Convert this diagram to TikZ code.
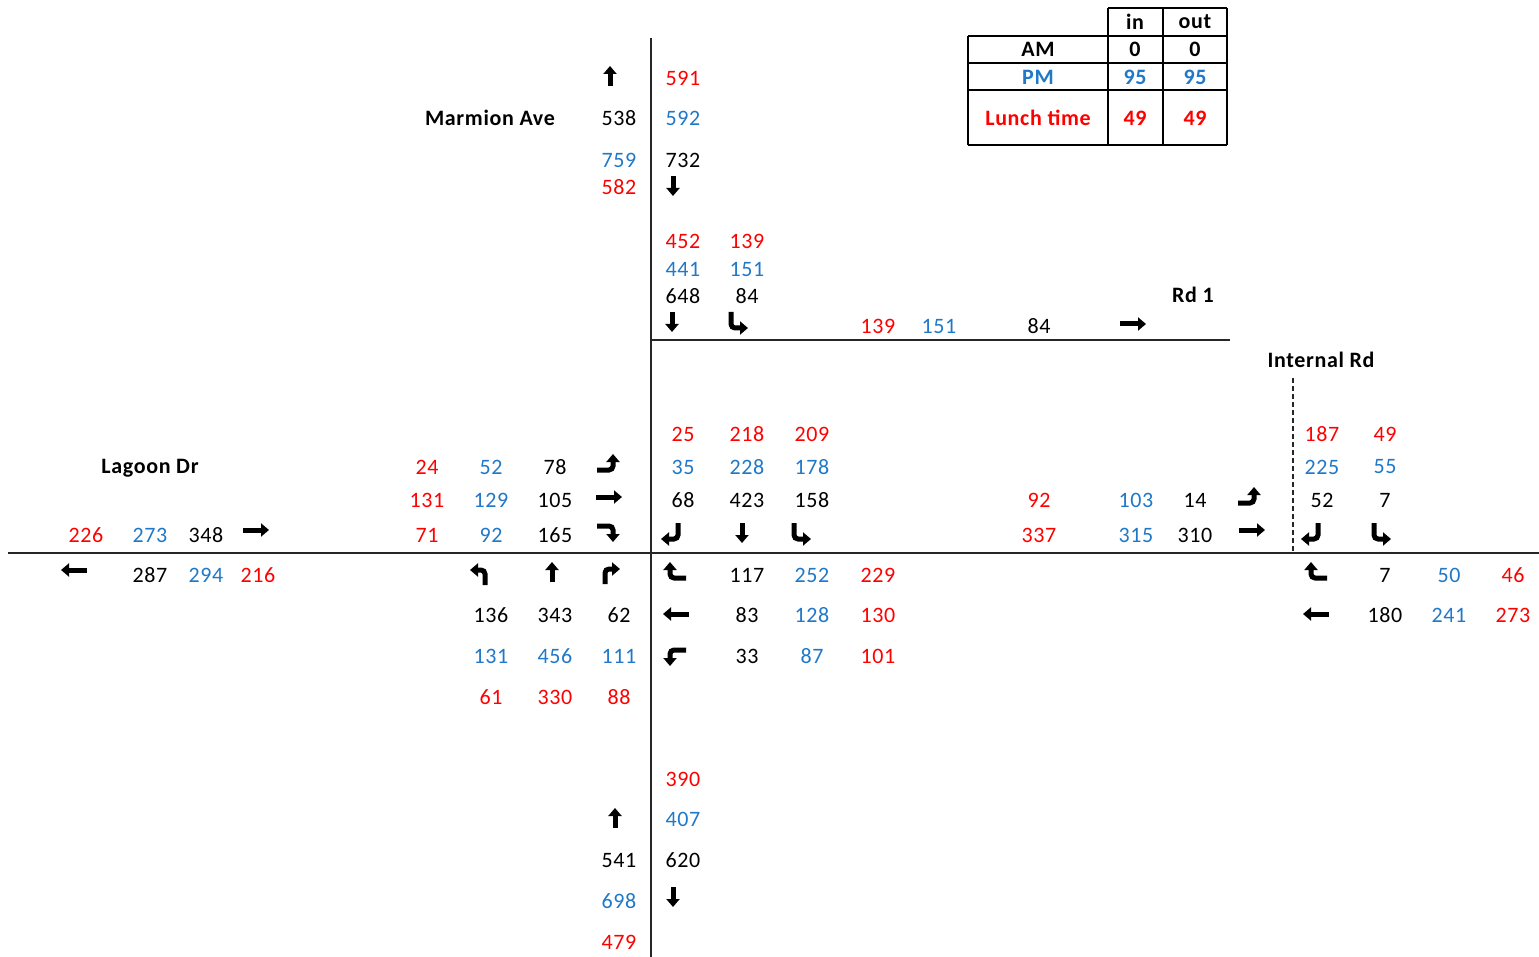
\documentclass[tikz,border=0pt]{standalone}
\usepackage{fontspec}
\setmainfont{Carlito}[LetterSpace=3]
\usetikzlibrary{arrows.meta}
\definecolor{amred}{HTML}{FF0000}
\definecolor{pmblue}{HTML}{1F78C8}

\tikzset{
  arw/.style={line width=5pt, draw=black, rounded corners=4pt,
    -{Triangle[length=8pt,width=13pt]}},
  % straight movement arrows
  pics/arrN/.style={code={\draw[arw] (0,10) -- (0,-10);}},
  pics/arrS/.style={code={\draw[arw] (0,-10) -- (0,10);}},
  pics/arrE/.style={code={\draw[arw] (-13,0) -- (13,0);}},
  pics/arrW/.style={code={\draw[arw] (13,0) -- (-13,0);}},
  % turning movement arrows (first direction, then the turn)
  pics/turnDR/.style={code={\draw[arw] (-6,-10) -- (-6,6) -- (11,6);}},
  pics/turnDL/.style={code={\draw[arw] (6,-10) -- (6,6) -- (-11,6);}},
  pics/turnRU/.style={code={\draw[arw] (-12,6) -- (4,6) -- (4,-10);}},
  pics/turnRD/.style={code={\draw[arw] (-12,-6) -- (4,-6) -- (4,10);}},
  pics/turnUL/.style={code={\draw[arw] (5,10) -- (5,-5) -- (-10,-5);}},
  pics/turnUR/.style={code={\draw[arw] (-5,10) -- (-5,-5) -- (10,-5);}},
  pics/turnLU/.style={code={\draw[arw] (12,6) -- (-4,6) -- (-4,-10);}},
  pics/turnLD/.style={code={\draw[arw] (12,-6) -- (-4,-6) -- (-4,10);}},
}

\begin{document}
\begin{tikzpicture}[x=1pt,y=-1pt,
  every node/.style={font=\fontsize{22}{26}\selectfont, inner sep=0pt},
  k/.style={text=black},
  r/.style={text=amred},
  b/.style={text=pmblue},
  lbl/.style={font=\fontsize{22}{26}\selectfont\bfseries, text depth=0pt},
  cell/.style={font=\fontsize{22}{26}\selectfont\bfseries, text depth=0pt},
  road/.style={line width=1.3pt, draw=black!85},
  grid/.style={line width=1.1pt, draw=black},
]
\useasboundingbox (0,0) rectangle (1539,957);

% ---------------- roads ----------------
\coordinate (vTop) at (651,38);
\coordinate (vBot) at (651,957);
\coordinate (hL) at (8,553);
\coordinate (hR) at (1539,553);
\coordinate (rdA) at (651,340);
\coordinate (rdB) at (1230,340);
\coordinate (dA) at (1293,378);
\coordinate (dB) at (1293,553);
\draw[road] (vTop) -- (vBot);
\draw[road] (hL) -- (hR);
\draw[road] (rdA) -- (rdB);
\draw[road, dashed, dash pattern=on 5pt off 3pt] (dA) -- (dB);

% ---------------- road names ----------------
\node[lbl] (marmion) at (490,118) {Marmion Ave};
\node[lbl] (rd1) at (1193,295) {Rd 1};
\node[lbl] (internal) at (1321,360) {Internal Rd};
\node[lbl] (lagoon) at (150,466) {Lagoon Dr};

% ---------------- peak-hour table ----------------
\draw[grid] (1108,8) -- (1227,8);
\draw[grid] (968,36) -- (1227,36);
\draw[grid] (968,63) -- (1227,63);
\draw[grid] (968,90) -- (1227,90);
\draw[grid] (968,145) -- (1227,145);
\draw[grid] (968,36) -- (968,145);
\draw[grid] (1108,8) -- (1108,145);
\draw[grid] (1163,8) -- (1163,145);
\draw[grid] (1227,8) -- (1227,145);
\node[cell] (tIn) at (1135,22) {in};
\node[cell] (tOut) at (1195,22) {out};
\node[cell] (tAM) at (1038,49) {AM};
\node[cell] (tAMin) at (1135,49) {0};
\node[cell] (tAMout) at (1195,49) {0};
\node[cell, b] (tPM) at (1038,77) {PM};
\node[cell, b] (tPMin) at (1135,77) {95};
\node[cell, b] (tPMout) at (1195,77) {95};
\node[cell, r] (tLT) at (1038,118) {Lunch time};
\node[cell, r] (tLTin) at (1135,118) {49};
\node[cell, r] (tLTout) at (1195,118) {49};

% ---------------- north approach ----------------
\pic at (610,76) {arrN};
\pic at (673,186) {arrS};
\node[r] (n591) at (683,78) {591};
\node[b] (n592) at (683,118) {592};
\node[k] (n538) at (619,118) {538};
\node[b] (n759) at (619,160) {759};
\node[k] (n732) at (683,160) {732};
\node[r] (n582) at (619,187) {582};

\node[r] (n452) at (683,241) {452};
\node[r] (n139a) at (747,241) {139};
\node[b] (n441) at (683,269) {441};
\node[b] (n151a) at (747,269) {151};
\node[k] (n648) at (683,296) {648};
\node[k] (n84a) at (747,296) {84};
\pic at (672,322) {arrS};
\pic at (737,322) {turnDR};

% ---------------- Rd 1 ----------------
\node[r] (n139b) at (878,326) {139};
\node[b] (n151b) at (939,326) {151};
\node[k] (n84b) at (1039,326) {84};
\pic at (1133,324) {arrE};

% ---------------- south-bound at Lagoon Dr ----------------
\node[r] (n25) at (683,434) {25};
\node[r] (n218) at (747,434) {218};
\node[r] (n209) at (812,434) {209};
\node[b] (n35) at (683,467) {35};
\node[b] (n228) at (747,467) {228};
\node[b] (n178) at (812,467) {178};
\node[k] (n68) at (683,500) {68};
\node[k] (n423) at (747,500) {423};
\node[k] (n158) at (812,500) {158};
\pic at (672,533) {turnDL};
\pic at (742,533) {arrS};
\pic at (800,533) {turnDR};

% ---------------- east-bound Lagoon Dr ----------------
\node[r] (n24) at (427,467) {24};
\node[b] (n52a) at (491,467) {52};
\node[k] (n78) at (555,467) {78};
\pic at (609,464) {turnRU};
\node[r] (n131a) at (427,500) {131};
\node[b] (n129) at (491,500) {129};
\node[k] (n105) at (555,500) {105};
\pic at (609,497) {arrE};
\node[r] (n71) at (427,535) {71};
\node[b] (n92a) at (491,535) {92};
\node[k] (n165) at (555,535) {165};
\pic at (609,532) {turnRD};

\node[r] (n226) at (86,535) {226};
\node[b] (n273a) at (150,535) {273};
\node[k] (n348) at (206,535) {348};
\pic at (256,530) {arrE};

\pic at (74,570) {arrW};
\node[k] (n287) at (150,575) {287};
\node[b] (n294) at (206,575) {294};
\node[r] (n216) at (258,575) {216};

% ---------------- north-bound at Lagoon Dr ----------------
\pic at (480,575) {turnUL};
\pic at (552,572) {arrN};
\pic at (610,574) {turnUR};
\node[k] (n136) at (491,615) {136};
\node[k] (n343) at (555,615) {343};
\node[k] (n62) at (619,615) {62};
\node[b] (n131b) at (491,656) {131};
\node[b] (n456) at (555,656) {456};
\node[b] (n111) at (619,656) {111};
\node[r] (n61) at (491,697) {61};
\node[r] (n330) at (555,697) {330};
\node[r] (n88) at (619,697) {88};

% ---------------- west-bound at Lagoon Dr ----------------
\pic at (674,572) {turnLU};
\node[k] (n117) at (747,575) {117};
\node[b] (n252) at (812,575) {252};
\node[r] (n229) at (878,575) {229};
\pic at (676,614) {arrW};
\node[k] (n83) at (747,615) {83};
\node[b] (n128) at (812,615) {128};
\node[r] (n130) at (878,615) {130};
\pic at (674,656) {turnLD};
\node[k] (n33) at (747,656) {33};
\node[b] (n87) at (812,656) {87};
\node[r] (n101) at (878,656) {101};

% ---------------- Internal Rd ----------------
\node[r] (n92b) at (1039,500) {92};
\node[b] (n103) at (1136,500) {103};
\node[k] (n14) at (1195,500) {14};
\pic at (1250,497) {turnRU};
\node[r] (n337) at (1039,535) {337};
\node[b] (n315) at (1136,535) {315};
\node[k] (n310) at (1195,535) {310};
\pic at (1252,530) {arrE};

\node[r] (n187) at (1322,434) {187};
\node[r] (n49) at (1385,434) {49};
\node[b] (n225) at (1322,467) {225};
\node[b] (n55) at (1385,467) {55};
\node[k] (n52b) at (1322,500) {52};
\node[k] (n7a) at (1385,500) {7};
\pic at (1312,533) {turnDL};
\pic at (1380,533) {turnDR};

\pic at (1315,572) {turnLU};
\node[k] (n7b) at (1385,575) {7};
\node[b] (n50) at (1449,575) {50};
\node[r] (n46) at (1513,575) {46};
\pic at (1316,614) {arrW};
\node[k] (n180) at (1385,615) {180};
\node[b] (n241) at (1449,615) {241};
\node[r] (n273b) at (1513,615) {273};

% ---------------- south approach ----------------
\node[r] (n390) at (683,779) {390};
\node[b] (n407) at (683,819) {407};
\pic at (615,818) {arrN};
\node[k] (n541) at (619,860) {541};
\node[k] (n620) at (683,860) {620};
\node[b] (n698) at (619,901) {698};
\pic at (673,897) {arrS};
\node[r] (n479) at (619,942) {479};
\end{tikzpicture}
\end{document}
